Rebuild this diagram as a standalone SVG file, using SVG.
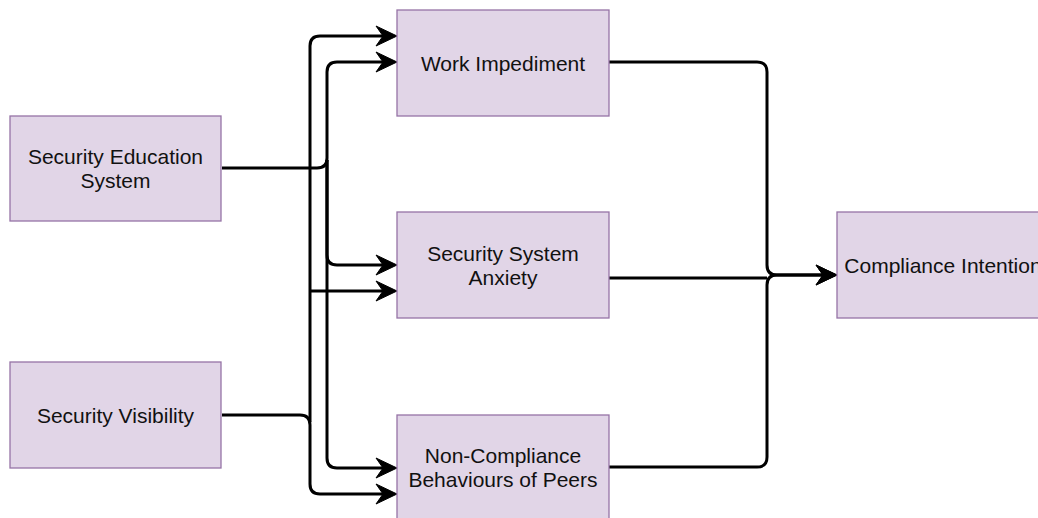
<svg xmlns="http://www.w3.org/2000/svg" width="1038" height="518" viewBox="0 0 1038 518">
  <style>
    .box { fill: #e1d5e7; stroke: #9673a6; stroke-width: 1.3; }
    .lbl { font-family: "Liberation Sans", Arial, sans-serif; font-size: 21px; fill: #111111; text-anchor: middle; }
    .edge { fill: none; stroke: #000000; stroke-width: 3; stroke-linejoin: round; }
  </style>
  <defs>
    <marker id="arrow" markerUnits="userSpaceOnUse" viewBox="-8 -12 26 24" markerWidth="26" markerHeight="24" refX="0" refY="0" orient="auto" overflow="visible">
      <path d="M-7,-10 L14,0 L-7,10 L0,0 Z" fill="#000000" stroke="#000000" stroke-width="1" stroke-linejoin="miter"/>
    </marker>
  </defs>

  <rect width="1038" height="518" fill="#ffffff"/>

  <!-- connectors -->
  <g id="connectors">
    <!-- Security Education System outgoing -->
    <path class="edge" d="M222,168 H317 Q327,168 327,158 V72 Q327,62 337,62 H383" marker-end="url(#arrow)"/>
    <path class="edge" d="M327,160 V255 Q327,265 337,265 H383" marker-end="url(#arrow)"/>
    <path class="edge" d="M327,160 V458 Q327,468 337,468 H383" marker-end="url(#arrow)"/>
    <!-- Security Visibility outgoing -->
    <path class="edge" d="M310,422 V46 Q310,36 320,36 H383" marker-end="url(#arrow)"/>
    <path class="edge" d="M310,291 H383" marker-end="url(#arrow)"/>
    <path class="edge" d="M222,415 H300 Q310,415 310,425 V484 Q310,494 320,494 H383" marker-end="url(#arrow)"/>
    <!-- into Compliance Intention -->
    <path class="edge" d="M609,62 H757 Q767,62 767,72 V265 Q767,275 777,275 H823" marker-end="url(#arrow)"/>
    <path class="edge" d="M609,278 H767"/>
    <path class="edge" d="M609,467 H757 Q767,467 767,457 V285 Q767,275 777,275 H823" marker-end="url(#arrow)"/>
  </g>

  <g id="security-education-system">
    <rect class="box" x="10" y="116" width="211" height="105"/>
    <text class="lbl" x="115.5" y="164">Security Education</text>
    <text class="lbl" x="115.5" y="188">System</text>
  </g>

  <g id="security-visibility">
    <rect class="box" x="10" y="362" width="211" height="106"/>
    <text class="lbl" x="115.5" y="423">Security Visibility</text>
  </g>

  <g id="work-impediment">
    <rect class="box" x="397" y="10" width="212" height="106"/>
    <text class="lbl" x="503" y="71">Work Impediment</text>
  </g>

  <g id="security-system-anxiety">
    <rect class="box" x="397" y="212" width="212" height="106"/>
    <text class="lbl" x="503" y="261">Security System</text>
    <text class="lbl" x="503" y="285">Anxiety</text>
  </g>

  <g id="non-compliance-behaviours">
    <rect class="box" x="397" y="415" width="212" height="106"/>
    <text class="lbl" x="503" y="463">Non-Compliance</text>
    <text class="lbl" x="503" y="487">Behaviours of Peers</text>
  </g>

  <g id="compliance-intention">
    <rect class="box" x="837" y="212" width="212" height="106"/>
    <text class="lbl" x="943" y="273">Compliance Intention</text>
  </g>
</svg>
